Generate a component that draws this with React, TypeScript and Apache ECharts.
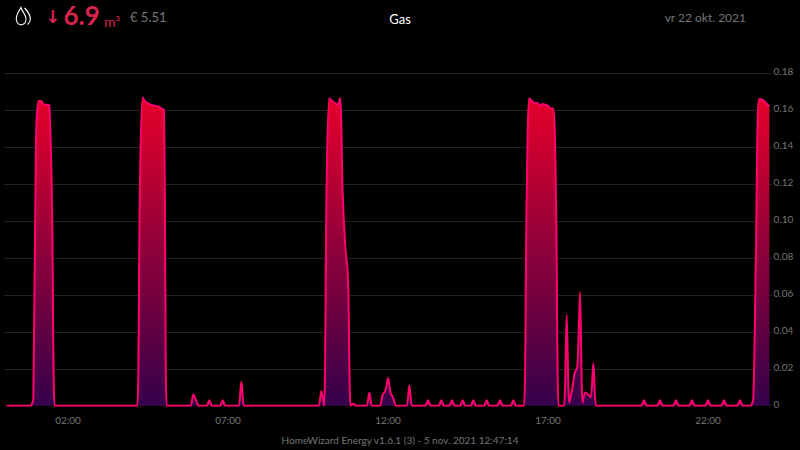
import React, { useEffect, useRef } from "react";
import * as echarts from "echarts";

const yTicks = { min: 0, max: 0.18, interval: 0.02 };
const hourLabels = Array.from({ length: 25 }, (_, h) => String(h).padStart(2, "0"));
const categories: string[] = [];
hourLabels.forEach((h, idx) => {
  ["00", "05", "10", "15", "20", "25", "30", "35", "40", "45", "50", "55"].forEach((m) => {
    if (idx < 24 || m === "00") categories.push(`${h}:${m}`);
  });
});

const gasValues: (number | null)[] = [
  null, 0, 0, 0, 0, 0, 0, 0, 0, 0, 0, 0.004,
  0.145, 0.165, 0.165, 0.163, 0.163, 0.1625, 0.11, 0, 0, 0, 0, 0,
  0, 0, 0, 0, 0, 0, 0, 0, 0, 0, 0, 0,
  0, 0, 0, 0, 0, 0, 0, 0, 0, 0, 0, 0,
  0, 0, 0, 0.122, 0.167, 0.1647, 0.1638, 0.163, 0.1626, 0.1624, 0.162, 0.161,
  0.16, 0, 0, 0, 0, 0, 0, 0, 0, 0, 0, 0.006,
  0.003, 0, 0, 0, 0, 0.003, 0, 0, 0, 0, 0.003, 0,
  0, 0, 0, 0, 0, 0.013, 0, 0, 0, 0, 0, 0,
  0, 0, 0, 0, 0, 0, 0, 0, 0, 0, 0, 0,
  0, 0, 0, 0, 0, 0, 0, 0, 0, 0, 0, 0.008,
  0, 0.122, 0.1665, 0.165, 0.164, 0.163, 0.1665, 0.115, 0.086, 0.07, 0, 0.001,
  0, 0, 0, 0, 0, 0.007, 0, 0, 0, 0, 0.006, 0.008,
  0.015, 0.0067, 0.004, 0, 0, 0, 0, 0, 0.011, 0, 0, 0,
  0, 0, 0, 0.003, 0, 0, 0, 0, 0.003, 0, 0, 0,
  0.003, 0, 0, 0, 0.003, 0, 0, 0, 0.003, 0, 0, 0,
  0, 0.003, 0, 0, 0, 0, 0.003, 0, 0, 0, 0, 0.003,
  0, 0, 0, 0, 0.113, 0.1665, 0.165, 0.164, 0.164, 0.1624, 0.1634, 0.163,
  0.1625, 0.161, 0.161, 0.113, 0, 0, 0, 0.049, 0.0016, 0.0085, 0.0175, 0.021,
  0.0614, 0.0016, 0.0072, 0.006, 0.0045, 0.023, 0, 0, 0, 0, 0, 0,
  0, 0, 0, 0, 0, 0, 0, 0, 0, 0, 0, 0,
  0.003, 0, 0, 0, 0, 0, 0.003, 0, 0, 0, 0, 0,
  0.003, 0, 0, 0, 0, 0, 0.003, 0, 0, 0, 0, 0,
  0.003, 0, 0, 0, 0, 0, 0.003, 0, 0, 0, 0, 0,
  0.003, 0, 0, 0, 0, 0.004, 0.086, 0.166, 0.166, 0.165, 0.1635, 0.162,
];

const FONT = "Lato, sans-serif";
const GRAY = "#757575";
const ACCENT = "#d8234f";

echarts.graphic.registerShape(
  "gasFlame",
  echarts.graphic.extendPath(
    "M21 7.5 C18.5 11.5 16 15 16.3 19.5 C16.6 23.5 19.5 25.3 22 24.7 C25 24 26.5 21 25.8 17.5 C25 13.5 22 11.5 21 7.5 Z M24.5 8 C27.5 11 30.5 15 30.3 19.5 C30.2 21.8 29.2 23.2 27.5 24.5",
    {}
  ) as any
);

export default function App() {
  const ref = useRef<HTMLDivElement>(null);
  useEffect(() => {
    const chart = echarts.init(ref.current!, undefined, { renderer: "svg" });
    chart.setOption({
      animation: false,
      backgroundColor: "#000000",
      grid: { left: 4, right: 28, top: 73.4, bottom: 44.3 },
      xAxis: {
        type: "category",
        boundaryGap: false,
        data: categories,
        axisLine: { show: false },
        axisTick: { show: false },
        splitLine: { show: false },
        axisLabel: {
          color: GRAY,
          fontFamily: FONT,
          fontSize: 10,
          margin: 9,
          interval: (i: number) => i % 60 === 24,
        },
      },
      yAxis: {
        type: "value",
        position: "right",
        min: yTicks.min,
        max: yTicks.max,
        interval: yTicks.interval,
        axisLine: { show: false },
        axisTick: { show: false },
        splitLine: { show: true, lineStyle: { color: "#222222", width: 1 } },
        axisLabel: {
          color: GRAY,
          fontFamily: FONT,
          fontSize: 10,
          margin: 1.5,
          verticalAlign: "bottom",
          lineHeight: 4,
          formatter: (v: number) => (v === 0 ? "0" : v.toFixed(2)),
        },
      },
      series: [
        {
          type: "line",
          data: gasValues,
          showSymbol: false,
          smooth: 0.3,
          connectNulls: false,
          lineStyle: { color: "#ff006e", width: 2 },
          areaStyle: {
            opacity: 1,
            color: new echarts.graphic.LinearGradient(0, 0, 0, 1, [
              { offset: 0, color: "#e6002a" },
              { offset: 1, color: "#35004a" },
            ]),
          },
        },
      ],
      graphic: [
        { type: "rect", shape: { x: 769.5, y: 60, width: 3.5, height: 340 }, style: { fill: "#000000" }, z: -1 },
        { type: "gasFlame", x: 0, y: 0, style: { fill: "none", stroke: "#ffffff", lineWidth: 1.1 } },
        { type: "text", x: 45, y: 7, style: { text: "↓", fill: ACCENT, font: `bold 18px "DejaVu Sans"` } },
        { type: "text", x: 63.5, y: 2, style: { text: "6.9", fill: ACCENT, font: `bold 26px ${FONT}` } },
        { type: "text", x: 104, y: 14, style: { text: "m³", fill: ACCENT, font: `14px ${FONT}` } },
        { type: "text", x: 130, y: 10, style: { text: "€ 5.51", fill: GRAY, font: `13px ${FONT}` } },
        { type: "text", x: 400, y: 12, style: { text: "Gas", fill: "#ffffff", align: "center", font: `13px ${FONT}` } },
        { type: "text", x: 746, y: 11, style: { text: "vr 22 okt. 2021", fill: GRAY, align: "right", font: `12px ${FONT}` } },
        {
          type: "text",
          x: 400,
          y: 435,
          style: { text: "HomeWizard Energy v1.6.1 (3) - 5 nov. 2021 12:47:14", fill: GRAY, align: "center", font: `10px ${FONT}` },
        },
      ],
    });
    return () => chart.dispose();
  }, []);
  return <div ref={ref} style={{ position: "fixed", left: 0, top: 0, width: 800, height: 450, background: "#000" }} />;
}
